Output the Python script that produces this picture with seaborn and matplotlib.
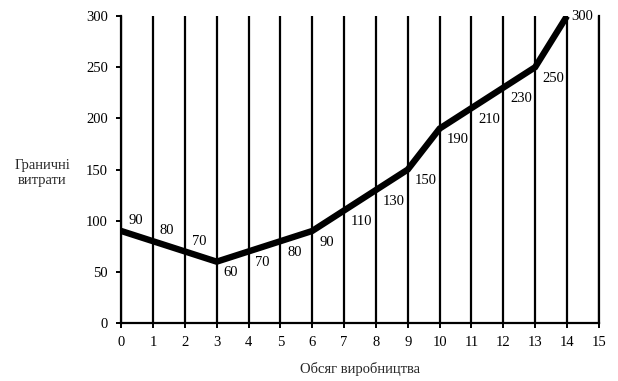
import matplotlib
matplotlib.use("Agg")
import matplotlib.pyplot as plt
import seaborn as sns
import pandas as pd

# Marginal cost by output volume
output_volume = list(range(0, 15))
marginal_cost = [90, 80, 70, 60, 70, 80, 90, 110, 130, 150, 190, 210, 230, 250, 300]
x_ticks = list(range(0, 16))
y_ticks = [0, 50, 100, 150, 200, 250, 300]
label_side = ["above"] * 3 + ["below"] * 11 + ["right"]

sns.set_theme(style="white")
plt.rcParams["font.family"] = ["Liberation Serif", "DejaVu Serif"]
plt.rcParams["font.size"] = 10.5

df = pd.DataFrame({"volume": output_volume, "cost": marginal_cost})

fig = plt.figure(figsize=(6.18, 3.81), dpi=100)
ax = fig.add_axes([0.196, 0.152, 0.773, 0.806])

# vertical rules at every integer volume
for xv in x_ticks:
    ax.axvline(xv, color="black", lw=1.6, zorder=1)

sns.lineplot(data=df, x="volume", y="cost", ax=ax, color="black",
             lw=4.6, zorder=3, solid_joinstyle="miter", solid_capstyle="butt")

for xv, yv, side in zip(output_volume, marginal_cost, label_side):
    if side == "above":
        off = (5, 7.5)
    elif side == "below":
        off = (5, -8)
    else:
        off = (3, 0)
    ax.annotate(str(yv), (xv, yv), xytext=off, textcoords="offset points",
                ha="left", va="center", fontsize=10.5, color="black",
                zorder=4,
                bbox=dict(boxstyle="square,pad=0.05", fc="white", ec="none"))

ax.set_xlim(0, 15)
ax.set_ylim(0, 300)
ax.set_xticks(x_ticks)
ax.set_yticks(y_ticks)

for s in ["top"]:
    ax.spines[s].set_visible(False)
for s in ["left", "right", "bottom"]:
    ax.spines[s].set_color("black")
    ax.spines[s].set_linewidth(1.6)

ax.tick_params(axis="both", which="major", direction="out", length=3.5,
               width=1.4, color="black", labelsize=10.5, labelcolor="black",
               left=True, bottom=True)
ax.tick_params(axis="x", pad=6)
ax.tick_params(axis="y", pad=6)

ax.set_xlabel("Обсяг виробництва", fontsize=10.5, labelpad=9)
ax.set_ylabel("Граничні\nвитрати", fontsize=10.5, rotation=0,
              ha="center", va="center", linespacing=1.2)
ax.yaxis.set_label_coords(-0.165, 0.49)

fig.savefig("out.png", dpi=100, facecolor="white")
